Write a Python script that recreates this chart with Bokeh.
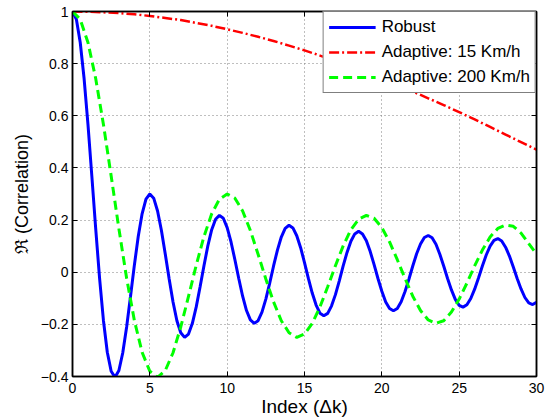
import numpy as np
from bokeh.plotting import figure
from bokeh.models import Range1d, LinearAxis, FixedTicker, Legend, LegendItem
from bokeh.embed import file_html
from bokeh.resources import INLINE

# Correlation vs. index offset (Δk)
# Robust estimator, sampled every 0.25
k_robust = np.arange(0, 30.001, 0.25)
robust = [
    1.000, 0.970, 0.881, 0.743, 0.567, 0.369, 0.167, -0.023, -0.185, -0.307,
    -0.380, -0.403, -0.377, -0.309, -0.210, -0.093, 0.027, 0.137, 0.224, 0.280,
    0.300, 0.284, 0.235, 0.160, 0.069, -0.026, -0.114, -0.186, -0.232, -0.250,
    -0.237, -0.196, -0.133, -0.056, 0.025, 0.101, 0.163, 0.203, 0.218, 0.207,
    0.171, 0.116, 0.048, -0.024, -0.092, -0.147, -0.183, -0.196, -0.186, -0.153,
    -0.103, -0.042, 0.024, 0.085, 0.135, 0.168, 0.180, 0.170, 0.140, 0.094,
    0.037, -0.024, -0.080, -0.126, -0.157, -0.167, -0.158, -0.129, -0.086, -0.033,
    0.024, 0.076, 0.119, 0.147, 0.157, 0.147, 0.121, 0.079, 0.029, -0.024,
    -0.073, -0.114, -0.139, -0.148, -0.139, -0.113, -0.074, -0.027, 0.024, 0.071,
    0.108, 0.133, 0.141, 0.132, 0.107, 0.069, 0.024, -0.024, -0.068, -0.104,
    -0.127, -0.134, -0.125, -0.101, -0.065, -0.022, 0.024, 0.066, 0.100, 0.122,
    0.129, 0.120, 0.096, 0.062, 0.020, -0.024, -0.064, -0.097, -0.118, -0.124,
    -0.115,
]

# Adaptive, 15 Km/h, sampled every 1
k_slow = np.arange(0, 31, 1)
adaptive_15 = [
    1.000, 0.999, 0.997, 0.994, 0.989, 0.983, 0.975, 0.967, 0.956, 0.945,
    0.932, 0.918, 0.903, 0.887, 0.869, 0.851, 0.831, 0.811, 0.789, 0.766,
    0.743, 0.718, 0.693, 0.667, 0.641, 0.614, 0.586, 0.557, 0.528, 0.499,
    0.470,
]

# Adaptive, 200 Km/h, sampled every 0.5
k_fast = np.arange(0, 30.001, 0.5)
adaptive_200 = [
    1.000, 0.970, 0.881, 0.743, 0.567, 0.369, 0.167, -0.023, -0.185, -0.307,
    -0.380, -0.403, -0.377, -0.309, -0.210, -0.093, 0.027, 0.137, 0.224, 0.280,
    0.300, 0.284, 0.235, 0.160, 0.069, -0.026, -0.114, -0.186, -0.232, -0.250,
    -0.237, -0.196, -0.133, -0.056, 0.025, 0.101, 0.163, 0.203, 0.218, 0.207,
    0.171, 0.116, 0.048, -0.024, -0.092, -0.147, -0.183, -0.196, -0.186, -0.153,
    -0.103, -0.042, 0.024, 0.085, 0.135, 0.168, 0.181, 0.176, 0.150, 0.110,
    0.070,
]

x_ticks = [0, 5, 10, 15, 20, 25, 30]
x_tick_labels = ["0", "5", "10", "15", "20", "25", "30"]
y_ticks = [-0.4, -0.2, 0, 0.2, 0.4, 0.6, 0.8, 1]
y_tick_labels = ["\u22120.4", "\u22120.2", "0", "0.2", "0.4", "0.6", "0.8", "1"]

FONT = "Liberation Sans"

p = figure(
    width=550, height=419, output_backend="svg", toolbar_location=None,
    x_range=Range1d(0, 30), y_range=Range1d(-0.4, 1),
    min_border_left=72, min_border_right=14, min_border_top=11, min_border_bottom=43,
)
p.background_fill_color = "white"
p.border_fill_color = "white"
p.outline_line_color = "black"
p.outline_line_width = 1.5

# grid
for g in (p.xgrid[0], p.ygrid[0]):
    g.grid_line_color = "#7f7f7f"
    g.grid_line_dash = "1 3"
    g.grid_line_width = 1
p.xgrid[0].ticker = FixedTicker(ticks=x_ticks)
p.ygrid[0].ticker = FixedTicker(ticks=y_ticks)

def style_axis(ax, ticks, labels):
    ax.ticker = FixedTicker(ticks=ticks)
    ax.major_label_overrides = dict(zip(ticks, labels))
    ax.major_tick_in = 5
    ax.major_tick_out = 0
    ax.minor_tick_line_color = None
    ax.axis_line_color = "black"
    ax.axis_line_width = 1.5
    ax.major_tick_line_color = "black"
    ax.major_tick_line_width = 1
    ax.major_label_text_font = FONT
    ax.major_label_text_font_size = "14px"
    ax.major_label_text_color = "black"
    ax.axis_label_text_font = FONT
    ax.axis_label_text_font_style = "normal"
    ax.axis_label_text_color = "black"

style_axis(p.xaxis[0], x_ticks, x_tick_labels)
style_axis(p.yaxis[0], y_ticks, y_tick_labels)
p.xaxis[0].major_label_standoff = 6
p.yaxis[0].major_label_standoff = 4
p.xaxis[0].axis_label = "Index (\u0394k)"
p.xaxis[0].axis_label_text_font_size = "19px"
p.xaxis[0].axis_label_standoff = 0
p.yaxis[0].axis_label = "\u211c (Correlation)"
p.yaxis[0].axis_label_text_font_size = "18px"
p.yaxis[0].axis_label_standoff = 6

# box ticks on top and right
for loc, ticks in (("above", x_ticks), ("right", y_ticks)):
    ax = LinearAxis(ticker=FixedTicker(ticks=ticks))
    ax.major_label_overrides = {t: "" for t in ticks}
    ax.major_label_text_font_size = "0px"
    ax.major_label_standoff = 0
    ax.major_tick_in = 5
    ax.major_tick_out = 0
    ax.minor_tick_line_color = None
    ax.axis_line_color = "black"
    ax.axis_line_width = 1.5
    p.add_layout(ax, loc)

r_robust = p.line(k_robust, robust, line_color="#0000ff", line_width=3)
r_15 = p.line(k_slow, adaptive_15, line_color="#ff0000", line_width=2.5,
              line_dash="10 3 2 3")
r_200 = p.line(k_fast, adaptive_200, line_color="#00ff00", line_width=3,
               line_dash="9 5")

legend = Legend(
    items=[
        LegendItem(label="Robust", renderers=[r_robust]),
        LegendItem(label="Adaptive: 15 Km/h", renderers=[r_15]),
        LegendItem(label="Adaptive: 200 Km/h", renderers=[r_200]),
    ],
    location="top_right", margin=0, padding=5, spacing=5,
    glyph_width=47, glyph_height=20, label_height=20, label_standoff=6,
    label_text_font=FONT, label_text_font_size="17px", label_text_color="black",
    border_line_color="black", border_line_width=1,
    background_fill_color="white", background_fill_alpha=1,
)
p.add_layout(legend)

open("out.html", "w").write(file_html(p, INLINE))
